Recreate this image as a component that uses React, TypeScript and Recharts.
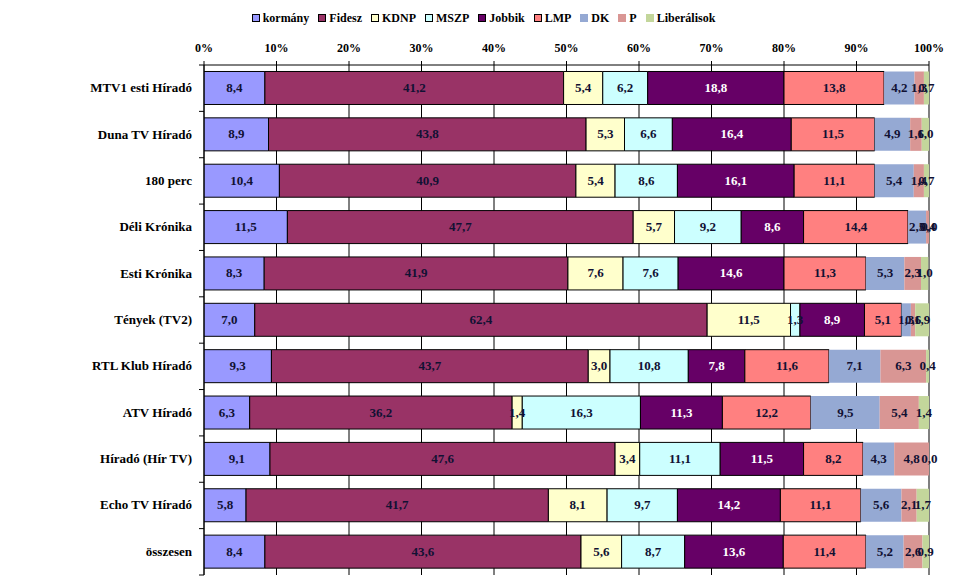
import React from 'react';
import { Bar, BarChart, CartesianGrid, LabelList, XAxis, YAxis } from 'recharts';

const CATEGORIES = [
  'MTV1 esti Híradó',
  'Duna TV Híradó',
  '180 perc',
  'Déli Krónika',
  'Esti Krónika',
  'Tények (TV2)',
  'RTL Klub Híradó',
  'ATV Híradó',
  'Híradó (Hír TV)',
  'Echo TV Híradó',
  'összesen',
];

const KORMANY = [8.4, 8.9, 10.4, 11.5, 8.3, 7.0, 9.3, 6.3, 9.1, 5.8, 8.4];
const FIDESZ = [41.2, 43.8, 40.9, 47.7, 41.9, 62.4, 43.7, 36.2, 47.6, 41.7, 43.6];
const KDNP = [5.4, 5.3, 5.4, 5.7, 7.6, 11.5, 3.0, 1.4, 3.4, 8.1, 5.6];
const MSZP = [6.2, 6.6, 8.6, 9.2, 7.6, 1.3, 10.8, 16.3, 11.1, 9.7, 8.7];
const JOBBIK = [18.8, 16.4, 16.1, 8.6, 14.6, 8.9, 7.8, 11.3, 11.5, 14.2, 13.6];
const LMP = [13.8, 11.5, 11.1, 14.4, 11.3, 5.1, 11.6, 12.2, 8.2, 11.1, 11.4];
const DK = [4.2, 4.9, 5.4, 2.5, 5.3, 1.3, 7.1, 9.5, 4.3, 5.6, 5.2];
const P = [1.3, 1.6, 1.4, 0.4, 2.3, 0.6, 6.3, 5.4, 4.8, 2.1, 2.6];
const LIBERALISOK = [0.7, 1.0, 0.7, 0.0, 1.0, 1.9, 0.4, 1.4, 0.0, 1.7, 0.9];

const X_TICKS = [0, 10, 20, 30, 40, 50, 60, 70, 80, 90, 100];

const SERIES = [
  { key: 'kormany', name: 'kormány', values: KORMANY, color: '#9999FF', border: true, text: '#111133' },
  { key: 'fidesz', name: 'Fidesz', values: FIDESZ, color: '#993366', border: true, text: '#111133' },
  { key: 'kdnp', name: 'KDNP', values: KDNP, color: '#FFFFCC', border: true, text: '#111133' },
  { key: 'mszp', name: 'MSZP', values: MSZP, color: '#CCFFFF', border: true, text: '#111133' },
  { key: 'jobbik', name: 'Jobbik', values: JOBBIK, color: '#660066', border: true, text: '#FFFFFF' },
  { key: 'lmp', name: 'LMP', values: LMP, color: '#FF8080', border: true, text: '#111133' },
  { key: 'dk', name: 'DK', values: DK, color: '#95A9D3', border: false, text: '#111133' },
  { key: 'p', name: 'P', values: P, color: '#D99694', border: false, text: '#111133' },
  { key: 'lib', name: 'Liberálisok', values: LIBERALISOK, color: '#C3D69B', border: false, text: '#111133' },
];

const chartData = CATEGORIES.map((name, i) => {
  const row: Record<string, string | number> = { name };
  for (const s of SERIES) {
    row[s.key] = s.values[i];
  }
  return row;
});

const FONT = '"Liberation Serif", "Times New Roman", serif';
const WIDTH = 967;
const HEIGHT = 588;
const MARGIN = { top: 30, right: 38, bottom: 13, left: 8 };
const X_AXIS_HEIGHT = 35;
const Y_AXIS_WIDTH = 196;
const PLOT_LEFT = MARGIN.left + Y_AXIS_WIDTH;
const BAND = (HEIGHT - MARGIN.top - X_AXIS_HEIGHT - MARGIN.bottom) / CATEGORIES.length;

const fmt = (v: number) => Number(v).toFixed(1).replace('.', ',');

const CategoryTick = (props: any) => {
  const { y, payload, index } = props;
  return (
    <g>
      <text
        x={PLOT_LEFT - 12}
        y={y}
        dy={4}
        textAnchor="end"
        fontFamily={FONT}
        fontWeight="bold"
        fontSize={13}
        fill="#000"
      >
        {payload.value}
      </text>
      <line x1={PLOT_LEFT - 5} x2={PLOT_LEFT} y1={y - BAND / 2} y2={y - BAND / 2} stroke="#000" />
      {index === CATEGORIES.length - 1 && (
        <line x1={PLOT_LEFT - 5} x2={PLOT_LEFT} y1={y + BAND / 2} y2={y + BAND / 2} stroke="#000" />
      )}
    </g>
  );
};

// draws the value in the middle of its segment
const makeValueLabel = (color: string) => (props: any) => {
  const { x, y, width, height, value } = props;
  if (value === undefined || value === null) return null;
  return (
    <text
      x={Number(x) + Number(width) / 2}
      y={Number(y) + Number(height) / 2}
      dy={4}
      textAnchor="middle"
      fontFamily={FONT}
      fontWeight="bold"
      fontSize={13}
      fill={color}
    >
      {fmt(value)}
    </text>
  );
};

const App: React.FC = () => {
  return (
    <div style={{ position: 'absolute', left: 0, top: 0, width: WIDTH, height: HEIGHT, background: '#fff' }}>
      <div
        style={{
          position: 'absolute',
          top: 10,
          left: 0,
          width: WIDTH,
          display: 'flex',
          justifyContent: 'center',
          gap: 9,
          fontFamily: FONT,
          fontWeight: 'bold',
          fontSize: 12,
          color: '#000',
          lineHeight: '16px',
        }}
      >
        {SERIES.map((s) => (
          <div key={s.key} style={{ display: 'flex', alignItems: 'center', gap: 3 }}>
            <span
              style={{
                display: 'inline-block',
                width: 6,
                height: 6,
                background: s.color,
                border: s.border ? '1px solid #000' : '1px solid ' + s.color,
              }}
            />
            <span>{s.name}</span>
          </div>
        ))}
      </div>
      <BarChart
        width={WIDTH}
        height={HEIGHT}
        data={chartData}
        layout="vertical"
        margin={MARGIN}
        barCategoryGap="14%"
      >
        <CartesianGrid vertical horizontal={false} stroke="#000" strokeWidth={1} />
        <XAxis
          type="number"
          orientation="top"
          domain={[0, 100]}
          ticks={X_TICKS}
          allowDataOverflow
          height={X_AXIS_HEIGHT}
          tickFormatter={(v: number) => `${v}%`}
          tick={{ fontFamily: FONT, fontWeight: 'bold', fontSize: 12, fill: '#000' }}
          axisLine={{ stroke: '#000' }}
          tickLine={{ stroke: '#000' }}
          tickSize={4}
          tickMargin={9}
        />
        <YAxis
          type="category"
          dataKey="name"
          width={Y_AXIS_WIDTH}
          axisLine={{ stroke: '#000' }}
          tickLine={false}
          tick={<CategoryTick />}
          interval={0}
        />
        {SERIES.map((s) => (
          <Bar
            key={s.key}
            dataKey={s.key}
            name={s.name}
            stackId="a"
            fill={s.color}
            stroke={s.border ? '#000' : 'none'}
            strokeWidth={1}
            minPointSize={s.key === 'lib' ? 0.5 : 0}
            isAnimationActive={false}
          >
            <LabelList dataKey={s.key} content={makeValueLabel(s.text)} />
          </Bar>
        ))}
      </BarChart>
    </div>
  );
};

export default App;
